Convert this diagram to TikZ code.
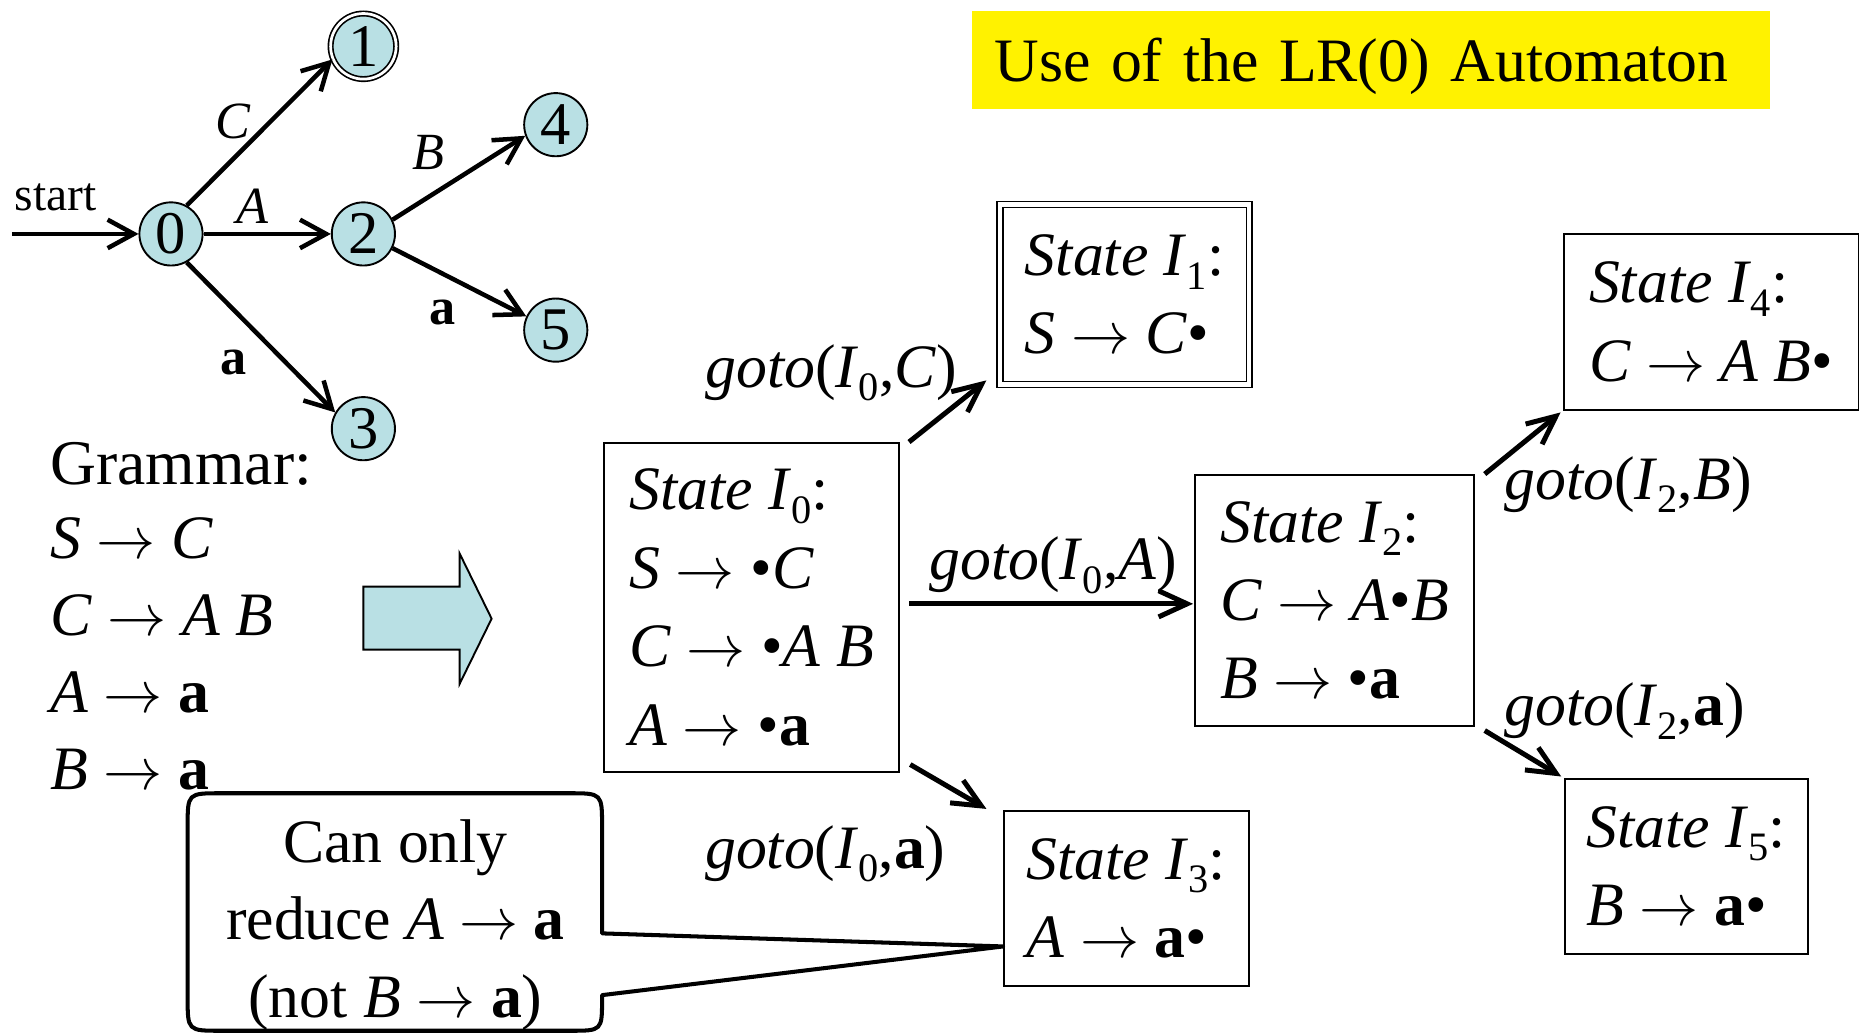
\documentclass[tikz,border=0pt]{standalone}
\usepackage{fontspec}
\setmainfont{Liberation Serif}
\usetikzlibrary{arrows.meta}
\definecolor{stblue}{RGB}{185,224,228}
\newcommand{\sbs}[1]{\raisebox{-0.22em}{\fontsize{17}{17}\selectfont\upshape #1}}
\newcommand{\V}[1]{\textit{#1}}
\newcommand{\T}[1]{\textbf{#1}}
\newcommand{\Is}[1]{\textit{I}\sbs{#1}}
\newcommand{\arrowr}{$\rightarrow$}
\newcommand{\gotolab}[2]{\textit{goto}(\Is{#1},#2)}
\begin{document}
\begin{tikzpicture}[x=0.5pt,y=-0.5pt,
  st/.style={circle,draw,fill=stblue,line width=0.8pt,minimum size=26.6pt,inner sep=0pt,font=\fontsize{25.5}{25.5}\selectfont},
  acc/.style={st,double,double distance=1.15pt,line width=0.7pt,minimum size=27.6pt},
  elab/.style={inner sep=0pt,font=\fontsize{22}{22}\selectfont},
  aarr/.style={line width=1.9pt,-{Straight Barb[length=11pt,width=12pt]}},
  garr/.style={line width=2.1pt,-{Straight Barb[length=12pt,width=11pt]}},
  sbox/.style={draw,line width=0.8pt,align=left,inner sep=0pt,font=\fontsize{26}{33}\selectfont},
  lab/.style={inner sep=0pt,font=\fontsize{26}{26}\selectfont},
]
\useasboundingbox (0,0) rectangle (1568,871);

% title
\node[fill=yellow, anchor=base west, inner xsep=9.5pt, inner ysep=0pt, text width=317pt, align=left,
      text height=29.75pt, text depth=11.5pt, font=\fontsize{26}{26}\selectfont] (title) at (818,68.8)
      {Use of the LR(0) Automaton};

% automaton
\node[st] (q0) at (144,197) {0};
\node[acc] (q1) at (306,39) {1};
\node[st] (q2) at (306,197) {2};
\node[st] (q4) at (468,105) {4};
\node[st] (q5) at (468,278) {5};
\node[st] (q3) at (306,361) {3};
\coordinate (s0) at (10,197);
\draw[aarr] (s0) -- (q0);
\draw[aarr] (q0.61) -- (q1.203);
\draw[aarr] (q0) -- (q2);
\draw[aarr] (q0.-61) -- (q3.150);
\draw[aarr] (q2.26) -- (q4.200);
\draw[aarr] (q2.-26) -- (q5.155);
\node[elab] (lC) at (196,102) {\V{C}};
\node[elab] (lA) at (213,174) {\V{A}};
\node[elab] (lB) at (361,128) {\V{B}};
\node[elab] (la5) at (373,263) {\T{a}};
\node[elab] (la3) at (197,305) {\T{a}};
\node[inner sep=0pt,font=\fontsize{20}{20}\selectfont] (lstart) at (47,166) {start};

% grammar
\node[lab,anchor=base west,font=\fontsize{26.8}{26.8}\selectfont] (g0) at (42,408) {Grammar:};
\node[lab,anchor=base west] (g1) at (42,470) {\V{S} \arrowr{} \V{C}};
\node[lab,anchor=base west] (g2) at (42,535) {\V{C} \arrowr{} \V{A B}};
\node[lab,anchor=base west] (g3) at (42,600) {\V{A} \arrowr{} \T{a}};
\node[lab,anchor=base west] (g4) at (42,665) {\V{B} \arrowr{} \T{a}};

% big arrow
\draw[fill=stblue, line width=0.8pt, line join=miter] (306,494) -- (387,494) -- (387,466) -- (414,521)
  -- (387,576) -- (387,547) -- (306,547) -- cycle;

% state boxes
\node[sbox,minimum width=124pt,minimum height=138.5pt] (I0) at (633,511.5)
  {\V{State} \Is{0}:\\ \V{S} \arrowr{} •\V{C}\\ \V{C} \arrowr{} •\V{A B}\\ \V{A} \arrowr{} •\T{a}};
\node[sbox,double,double distance=1.75pt,line width=0.7pt,minimum width=105pt,minimum height=75.85pt] (I1) at (947,248)
  {\V{State} \Is{1}:\\ \V{S} \arrowr{} \V{C}•};
\node[sbox,minimum width=117.5pt,minimum height=105.5pt] (I2) at (1124,505.5)
  {\V{State} \Is{2}:\\ \V{C} \arrowr{} \V{A}•\V{B}\\ \V{B} \arrowr{} •\T{a}};
\node[sbox,minimum width=103pt,minimum height=73.5pt] (I3) at (948.5,756.5)
  {\V{State} \Is{3}:\\ \V{A} \arrowr{} \T{a}•};
\node[sbox,minimum width=124pt,minimum height=74pt] (I4) at (1441,271)
  {\V{State} \Is{4}:\\ \V{C} \arrowr{} \V{A B}•};
\node[sbox,minimum width=102.5pt,minimum height=73.5pt] (I5) at (1420,729.5)
  {\V{State} \Is{5}:\\ \V{B} \arrowr{} \T{a}•};

% goto arrows
\draw[garr] ([shift={(7.7,0)}]I0.north east) -- ([shift={(-10.7,-4.2)}]I1.south west);
\draw[garr] ([shift={(7.7,-3)}]I0.east) -- ([shift={(-1,3)}]I2.west);
\draw[garr] ([shift={(8.7,-7)}]I0.south east) -- ([shift={(-14,-1)}]I3.north west);
\draw[garr] ([shift={(8,0)}]I2.north east) -- ([shift={(-2,1.5)}]I4.south west);
\draw[garr] ([shift={(8,3.4)}]I2.south east) -- ([shift={(-2,-1.3)}]I5.north west);

\node[lab] (gC) at (700,314) {\gotolab{0}{\V{C}}};
\node[lab] (gA) at (887,476) {\gotolab{0}{\V{A}}};
\node[lab] (ga) at (695,719) {\gotolab{0}{\T{a}}};
\node[lab] (gB) at (1371,408) {\gotolab{2}{\V{B}}};
\node[lab] (ga2) at (1368,599) {\gotolab{2}{\T{a}}};

% callout
\coordinate (tip) at ([shift={(0,40.5)}]I3.west);
\draw[line width=1.7pt, line join=round] (186,668) -- (479,668) .. controls (507,668) .. (507,696)
  -- (507,786) -- (tip) -- (507,838) -- (507,841) .. controls (507,868) .. (480,868)
  -- (186,868) .. controls (158,868) .. (158,840) -- (158,696) .. controls (158,668) .. (186,668) -- cycle;
\node[inner sep=0pt,align=center,font=\fontsize{26}{32.5}\selectfont] (note) at (333,779)
  {Can only\\reduce \V{A} \arrowr{} \T{a}\\(not \V{B} \arrowr{} \T{a})};
\end{tikzpicture}
\end{document}
